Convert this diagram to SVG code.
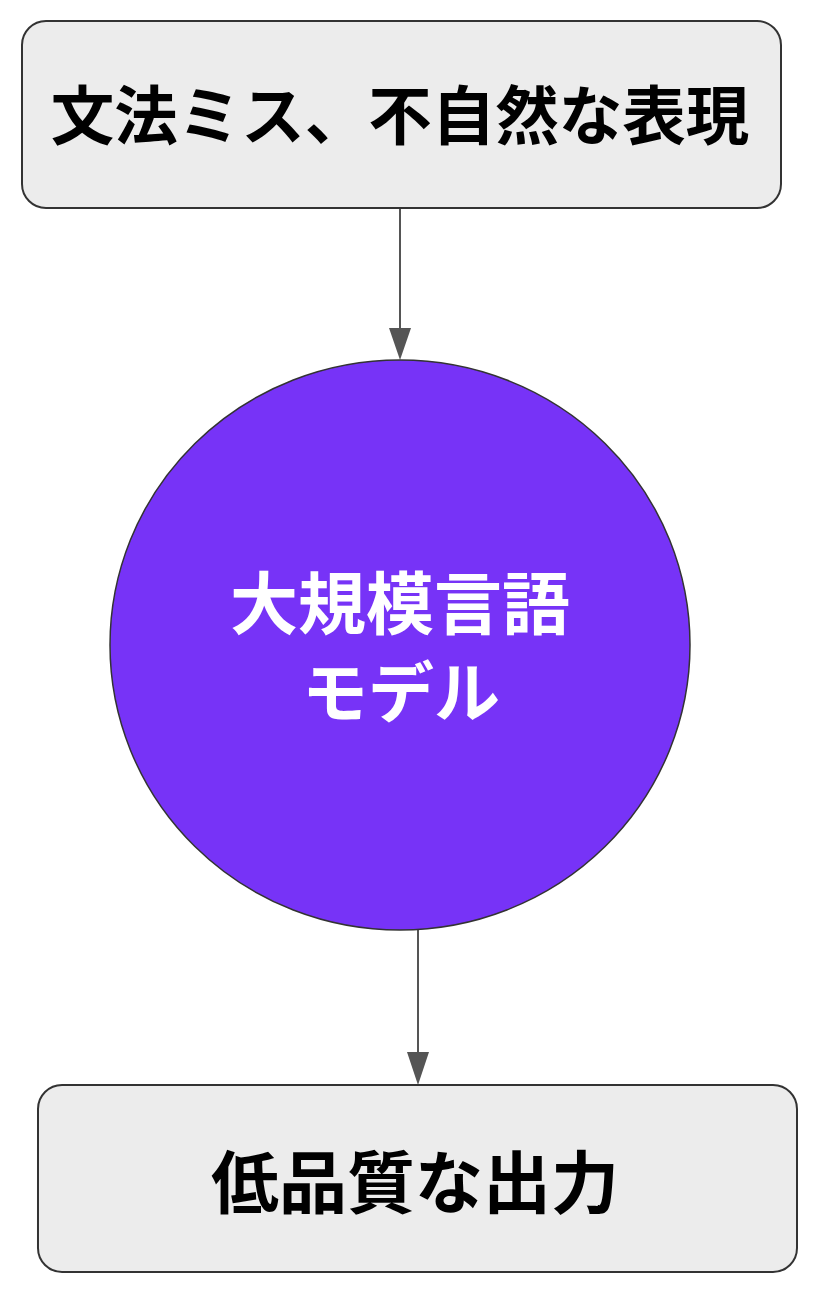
<svg xmlns="http://www.w3.org/2000/svg" width="816" height="1298" viewBox="0 0 816 1298">
<style>
.box{fill:#ececec;stroke:#333;stroke-width:2}
.lbl{font-family:"Noto Sans CJK JP","Noto Sans CJK SC",sans-serif;font-weight:700;text-anchor:middle}
.edge{stroke:#555;stroke-width:2;fill:none}
.head{fill:#555}
</style>
<rect width="816" height="1298" fill="#fff"/>
<g id="edges">
<line class="edge" x1="400" y1="208" x2="400" y2="330"/>
<path class="head" d="M389,328 L411,328 L400,360 Z"/>
<line class="edge" x1="418" y1="930" x2="418" y2="1054"/>
<path class="head" d="M407,1052 L429,1052 L418,1085 Z"/>
</g>
<g id="n1">
<rect class="box" x="22" y="21" width="759" height="187" rx="24"/>
<text class="lbl" x="400" y="139" font-size="63.5" fill="#000">文法ミス、不自然な表現</text>
</g>
<g id="n2">
<ellipse cx="400" cy="645" rx="290" ry="285" fill="#7733f7" stroke="#333" stroke-width="1.5"/>
<text class="lbl" x="400" y="629" font-size="68" font-weight="500" fill="#fff">大規模言語</text>
<text class="lbl" x="401" y="717" font-size="66" font-weight="500" fill="#fff">モデル</text>
</g>
<g id="n3">
<rect class="box" x="38" y="1085" width="759" height="187" rx="24"/>
<text class="lbl" x="415" y="1208" font-size="68" fill="#000">低品質な出力</text>
</g>
</svg>
